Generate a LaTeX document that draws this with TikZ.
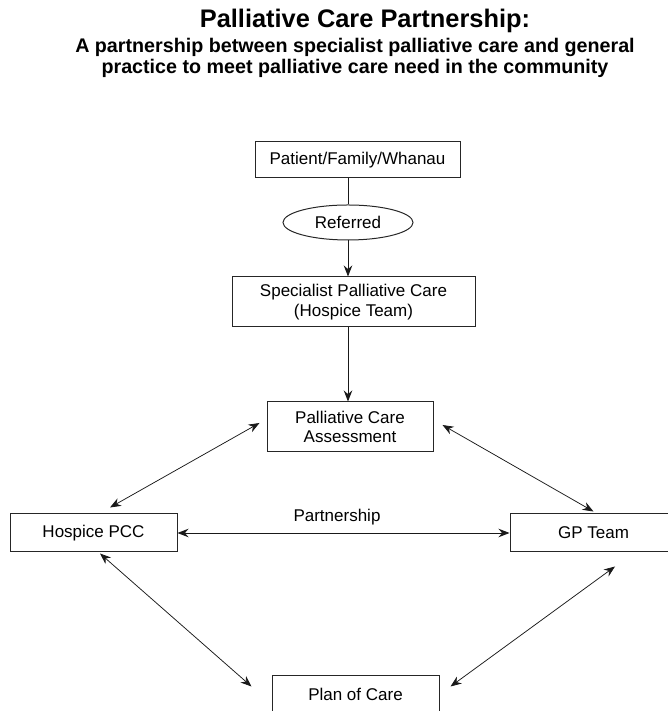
\documentclass[tikz,border=0pt]{standalone}
\usepackage{fontspec}
\setmainfont{Liberation Sans}
\usetikzlibrary{arrows.meta,shapes.geometric}

\begin{document}
\begin{tikzpicture}[x=1pt,y=1pt,
    pcBox/.style={draw=black!85,line width=1pt,inner sep=0pt,align=center,font=\fontsize{17}{19.5}\selectfont},
    pcArr/.style={->,>={Stealth[length=11pt,width=8.5pt]},line width=0.75pt,black!90},
]
% page frame
\useasboundingbox (0,0) rectangle (668,711);
\clip (0,0) rectangle (668,711);
% heading
\node[anchor=base,font=\fontsize{25.4}{28}\selectfont\bfseries] (title) at (365,683) {Palliative Care Partnership:};
\node[anchor=base,align=center,font=\fontsize{19.7}{21}\selectfont\bfseries] (subtitle) at (355,637)
    {A partnership between specialist palliative care and general\\practice to meet palliative care need in the community};
% referral path
\node[pcBox,minimum width=205,minimum height=36] (patient) at (357.5,551) {Patient/Family/Whanau};
\node[pcBox,ellipse,minimum width=130,minimum height=35] (referred) at (348,488.5) {Referred};
\node[pcBox,minimum width=243,minimum height=50] (special) at (353.5,409) {Specialist Palliative Care\\(Hospice Team)};
\node[pcBox,minimum width=166,minimum height=50] (assess) at (350,284) {Palliative Care\\Assessment};
% partnership ring
\node[pcBox,minimum width=167,minimum height=38] (hospice) at (93.5,178) {Hospice PCC};
\node[pcBox,minimum width=167,minimum height=38] (gp) at (593.5,178) {GP Team};
\node[pcBox,minimum width=167,minimum height=37] (plan) at (355.5,16.5) {Plan of Care};
\node[anchor=base,font=\fontsize{17}{19.5}\selectfont] (partner) at (337,189) {Partnership};

\draw[pcArr,-] (patient.south -| referred.north) -- (referred.north);
\draw[pcArr] (referred.south) -- (referred.south |- special.north);
\draw[pcArr] (special.south -| referred.south) -- (assess.north -| referred.south);
\draw[pcArr,<->] ([shift={(-7,4)}]assess.west) -- ([shift={(16.5,6)}]hospice.north);
\draw[pcArr,<->] ([shift={(9,2)}]assess.east) -- ([shift={(0,2)}]gp.north);
\draw[pcArr,<->] (hospice.east) -- (gp.west);
\draw[pcArr,<->] ([shift={(6.5,-1)}]hospice.south) -- ([shift={(-20,-11)}]plan.north west);
\draw[pcArr,<->] ([shift={(21.5,-14)}]gp.south) -- ([shift={(11,-11)}]plan.north east);
\end{tikzpicture}
\end{document}
